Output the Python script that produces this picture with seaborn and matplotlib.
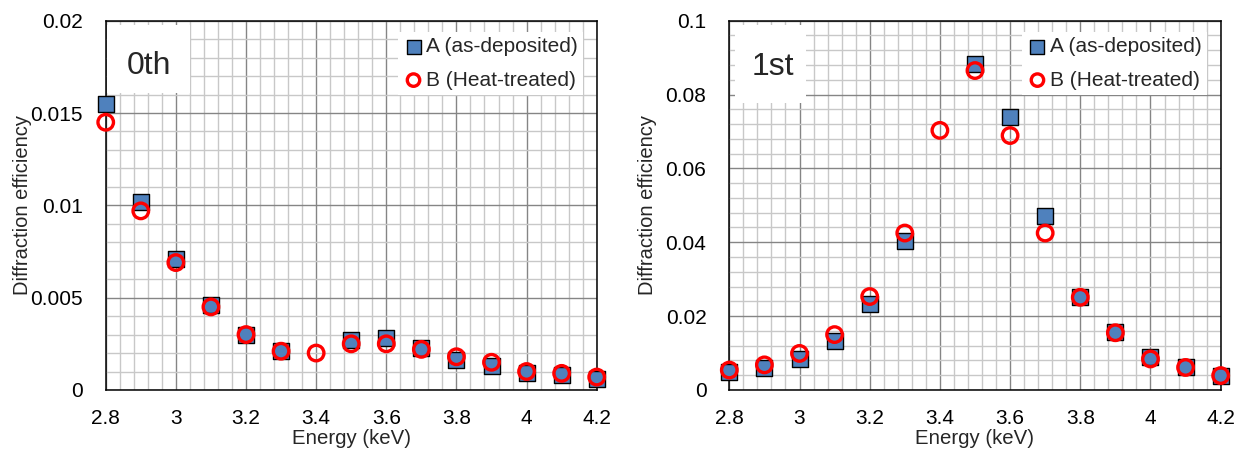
import numpy as np
import seaborn as sns
import matplotlib
matplotlib.use('Agg')
import matplotlib.pyplot as plt
from matplotlib.patches import Rectangle
from matplotlib.ticker import MultipleLocator, FuncFormatter

# Data
energy = [2.8, 2.9, 3.0, 3.1, 3.2, 3.3, 3.4, 3.5, 3.6, 3.7, 3.8, 3.9, 4.0, 4.1, 4.2]
zeroth_a = [0.0155, 0.0102, 0.0071, 0.0046, 0.0030, 0.0021, np.nan, 0.0027,
            0.0028, 0.0023, 0.00165, 0.0013, 0.0009, 0.0008, 0.0006]
zeroth_b = [0.0145, 0.0097, 0.0069, 0.0045, 0.0030, 0.0021, 0.0020, 0.0025,
            0.0025, 0.0022, 0.0018, 0.0015, 0.0010, 0.0009, 0.0007]
first_a = [0.0048, 0.0060, 0.0084, 0.0133, 0.0232, 0.0404, np.nan, 0.0884,
           0.0740, 0.0470, 0.0253, 0.0157, 0.0089, 0.0062, 0.0038]
first_b = [0.0054, 0.0068, 0.0099, 0.0150, 0.0253, 0.0425, 0.0703, 0.0865,
           0.0689, 0.0425, 0.0251, 0.0155, 0.0084, 0.0061, 0.0039]

label_a = 'A (as-deposited)'
label_b = 'B (Heat-treated)'

sns.set_style('white')
plt.rcParams['font.family'] = ['Liberation Sans', 'DejaVu Sans']

fig = plt.figure(figsize=(12.38, 4.51), dpi=100)
ax0 = fig.add_axes([0.0854, 0.1353, 0.3966, 0.8188])
ax1 = fig.add_axes([0.5891, 0.1353, 0.3969, 0.8188])

fmt = FuncFormatter(lambda v, p: f'{round(v, 6):g}')


def draw_panel(ax, ya, yb, ymax, ymajor, yminor, tag, tag_box, tag_xy, ylab_x):
    sns.scatterplot(x=energy, y=ya, marker='s', s=145, color='#4F81BD',
                    edgecolor='black', linewidth=1.0, label=label_a,
                    clip_on=False, zorder=3, ax=ax)
    sns.scatterplot(x=energy, y=yb, marker='o', s=125, facecolor='none',
                    edgecolor='#FF0000', linewidth=2.4, label=label_b,
                    clip_on=False, zorder=4, ax=ax)
    ax.set_xlim(2.8, 4.2)
    ax.set_ylim(0, ymax)
    ax.xaxis.set_major_locator(MultipleLocator(0.2))
    ax.xaxis.set_minor_locator(MultipleLocator(0.04))
    ax.yaxis.set_major_locator(MultipleLocator(ymajor))
    ax.yaxis.set_minor_locator(MultipleLocator(yminor))
    ax.xaxis.set_major_formatter(fmt)
    ax.yaxis.set_major_formatter(fmt)
    ax.set_axisbelow(True)
    ax.grid(which='major', color='#858585', linewidth=1.0)
    ax.grid(which='minor', color='#c8c8c8', linewidth=1.0)
    for sp in ax.spines.values():
        sp.set_color('black')
        sp.set_linewidth(1.1)
    ax.tick_params(which='major', direction='out', length=4.5, width=1,
                   color='black', labelsize=15, labelcolor='black')
    ax.tick_params(axis='x', pad=9)
    ax.tick_params(axis='y', pad=12)
    ax.tick_params(which='minor', length=0)
    ax.set_xlabel('Energy (keV)', fontsize=14.7, labelpad=1)
    ax.set_ylabel('Diffraction efficiency', fontsize=14.5)
    ax.yaxis.set_label_coords(ylab_x, 0.5)

    # white label box for the diffraction order
    x0, x1, y0, y1 = tag_box
    ax.add_patch(Rectangle((x0, y0), x1 - x0, y1 - y0, transform=ax.transAxes,
                           facecolor='white', edgecolor='none', zorder=2.5))
    ax.text(tag_xy[0], tag_xy[1], tag, transform=ax.transAxes, fontsize=23,
            ha='center', va='center', zorder=5)

    leg = ax.legend(loc='upper right', bbox_to_anchor=(0.972, 0.97),
                    fontsize=15, frameon=True, framealpha=1,
                    facecolor='white', edgecolor='none', fancybox=False,
                    markerscale=0.8, handletextpad=0.1, labelspacing=0.7,
                    borderpad=0.25, borderaxespad=0.0, handlelength=1.0)
    leg.set_zorder(6)


draw_panel(ax0, zeroth_a, zeroth_b, 0.02, 0.005, 0.001, '0th',
           (0.003, 0.172, 0.804, 0.988), (0.088, 0.878), -0.151)
draw_panel(ax1, first_a, first_b, 0.1, 0.02, 0.004, '1st',
           (0.012, 0.156, 0.777, 0.988), (0.089, 0.875), -0.147)

fig.savefig('out.png', dpi=100, facecolor='white')
